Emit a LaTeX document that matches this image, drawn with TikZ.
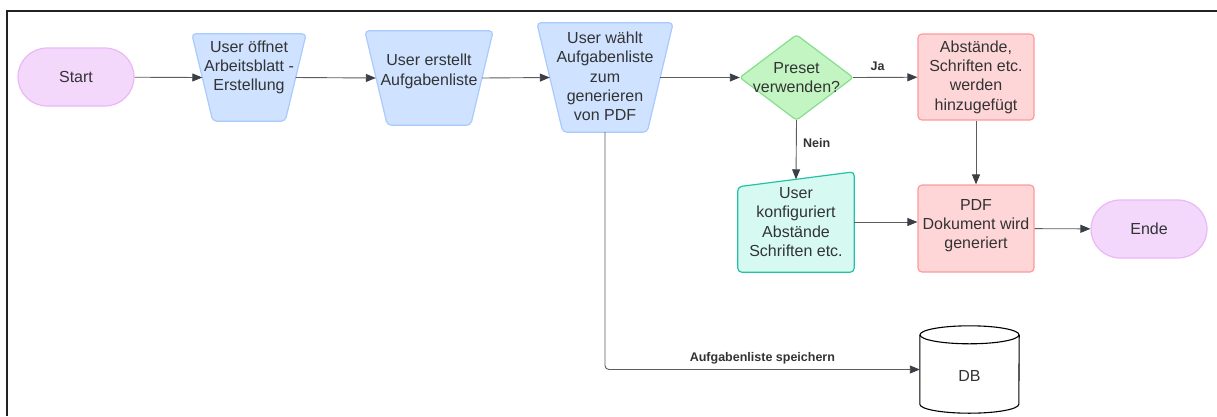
\documentclass[tikz,border=0pt]{standalone}
\usepackage{fontspec}
\setmainfont{Liberation Sans}
\usetikzlibrary{arrows.meta,backgrounds}

\definecolor{textgrey}{HTML}{333333}
\definecolor{linegrey}{HTML}{5C5C5C}
\definecolor{tipgrey}{HTML}{3A3F45}
\definecolor{termfill}{HTML}{F3D8FC}
\definecolor{termline}{HTML}{EAB8F6}
\definecolor{bluefill}{HTML}{CFE2FF}
\definecolor{blueline}{HTML}{A8CAFF}
\definecolor{greenfill}{HTML}{C3F5C3}
\definecolor{greenline}{HTML}{86DE8C}
\definecolor{redfill}{HTML}{FFD6D8}
\definecolor{redline}{HTML}{FF9A9C}
\definecolor{tealfill}{HTML}{D6FAF2}
\definecolor{tealline}{HTML}{22C2A6}
\definecolor{framecol}{HTML}{222222}

\begin{document}
\begin{tikzpicture}[x=1pt,y=-1pt,
  txt/.style={text=textgrey, font=\fontsize{16}{19.3}\selectfont, align=center},
  term/.style={rectangle, rounded corners=29pt, draw=termline, fill=termfill,
    line width=1.2pt, minimum width=116pt, minimum height=58pt, txt},
  trapbox/.style={rectangle, inner sep=0pt},
  trapline/.style={draw=blueline, fill=bluefill, rounded corners=4pt, line width=1.2pt},
  decline/.style={draw=greenline, fill=greenfill, line width=1.2pt, rounded corners=3pt},
  proc/.style={rectangle, draw=redline, fill=redfill, line width=1.2pt,
    rounded corners=4pt, minimum width=116pt, minimum height=86pt, txt},
  arr/.style={draw=linegrey, line width=0.9pt,
    -{Triangle[length=10pt,width=8pt,color=tipgrey]}},
  lbl/.style={text=textgrey, font=\bfseries\fontsize{12.5}{14}\selectfont}
]
\useasboundingbox (0,0) rectangle (1217,416);

% outer frame (top and left edges)
\draw[line width=2pt, framecol] (7,416) -- (7,11) -- (1217,11);

% terminals
\node[term] (start) at (76,77) {Start};
\node[term] (ende) at (1149,229) {Ende};

% trapezoid steps: bounding boxes, outlines and texts
\node[trapbox, minimum width=114pt, minimum height=87pt] (t1) at (249,77.5) {};
\node[trapbox, minimum width=128pt, minimum height=94pt] (t2) at (429,78) {};
\node[trapbox, minimum width=136pt, minimum height=109pt] (t3) at (605,77.5) {};
\draw[trapline] (t1.north west) -- (t1.north east) -- ([xshift=-21pt]t1.south east)
  -- ([xshift=21pt]t1.south west) -- cycle;
\draw[trapline] (t2.north west) -- (t2.north east) -- ([xshift=-22.5pt]t2.south east)
  -- ([xshift=22.5pt]t2.south west) -- cycle;
\draw[trapline] (t3.north west) -- (t3.north east) -- ([xshift=-26pt]t3.south east)
  -- ([xshift=26pt]t3.south west) -- cycle;
\node[txt] (t1txt) at (249,67.5) {User öffnet\\Arbeitsblatt -\\Erstellung};
\node[txt] (t2txt) at (429,71.5) {User erstellt\\Aufgabenliste};
\node[txt] (t3txt) at (605,76.5) {User wählt\\Aufgabenliste\\zum\\generieren\\von PDF};

% decision
\node[txt, minimum width=113pt, minimum height=85pt, inner sep=0pt] (dia) at (796.5,77.5)
  {Preset\\verwenden?};
\begin{scope}[on background layer]
  \draw[decline] (dia.north) -- (dia.east) -- (dia.south) -- (dia.west) -- cycle;
\end{scope}

% processing boxes
\node[proc] (abs) at (976,77) {Abstände,\\Schriften etc.\\werden\\hinzugefügt};
\node[proc, minimum height=87pt] (pdf) at (976,228.5) {};
\node[txt] (pdftxt) at (976,225.5) {PDF\\Dokument wird\\generiert};

% manual input
\node[txt, minimum width=116pt, minimum height=100pt, inner sep=0pt] (man) at (796,222)
  {User\\konfiguriert\\Abstände\\Schriften etc.};
\begin{scope}[on background layer]
  \draw[draw=tealline, fill=tealfill, line width=1.2pt, rounded corners=4pt]
    (man.south west) -- ([yshift=-15pt]man.north west) -- (man.north east)
    -- (man.south east) -- cycle;
\end{scope}

% database cylinder
\node[minimum width=99pt, minimum height=87pt, inner sep=0pt] (db) at (969.5,369.5) {};
\draw[line width=1.1pt, fill=white]
  ([yshift=-9pt]db.north west) -- ([yshift=9pt]db.south west)
  arc[start angle=180, end angle=360, x radius=49.5pt, y radius=9pt]
  -- ([yshift=-9pt]db.north east);
\draw[line width=1.1pt] ([yshift=-9pt]db.north) ellipse[x radius=49.5pt, y radius=9pt];
\node[txt] (dbtxt) at (969.5,376) {DB};

% connectors
\draw[arr] (start) -- ([xshift=10.5pt]t1.west);
\draw[arr] ([xshift=-10.5pt]t1.east) -- ([xshift=11pt]t2.west);
\draw[arr] ([xshift=-11pt]t2.east) -- ([xshift=13pt]t3.west);
\draw[arr] ([xshift=-13pt]t3.east) -- (dia.west);
\draw[arr] (dia.east) -- node[lbl, pos=0.38, above=3pt] {Ja} (abs);
\draw[arr] (dia.south) -- node[lbl, pos=0.38, right=3pt] {Nein} ([yshift=-7.5pt]man.north);
\draw[arr] (man.east) -- (man.east -| pdf.west);
\draw[arr] (abs) -- (pdf);
\draw[arr] (pdf) -- (ende);
\draw[arr, rounded corners=4pt] (t3) |- node[lbl, pos=0.75, above=2pt] {Aufgabenliste speichern} (db);
\end{tikzpicture}
\end{document}
